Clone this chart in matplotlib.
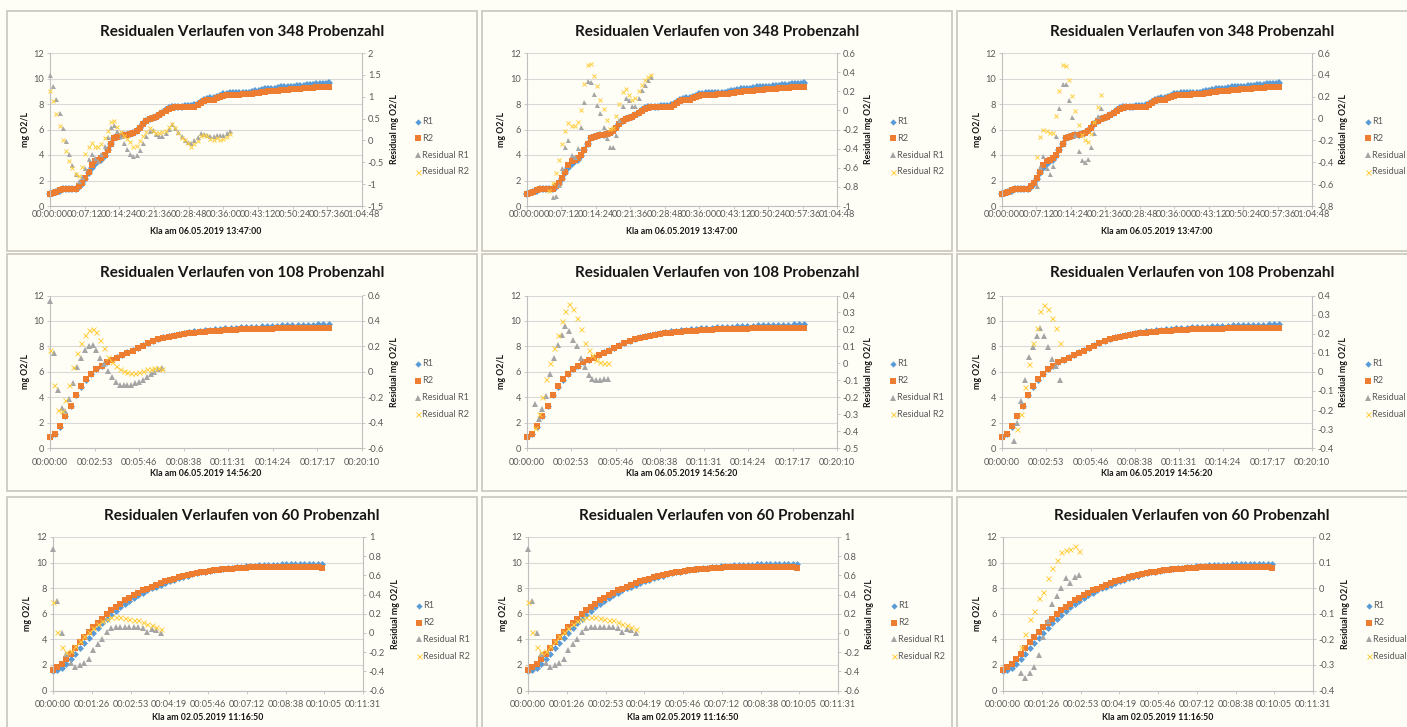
import numpy as np
import matplotlib.pyplot as plt
from matplotlib.lines import Line2D
from matplotlib.patches import Rectangle
from matplotlib.ticker import FixedLocator, FuncFormatter

plt.rcParams['font.family'] = ['Lato', 'DejaVu Sans']

# ---- measurement data (mg O2/L), sample clock in seconds ----
# run of 06.05.2019 13:47:00 (348 samples)
t_348 = np.arange(0, 3481, 40)
r1_348 = [0.95, 1.0, 1.1, 1.2, 1.3, 1.3, 1.3, 1.3, 1.35, 1.5,
          1.7, 2.1, 2.6, 3.0, 3.3, 3.5, 3.6, 3.9, 4.4, 4.9,
          5.3, 5.4, 5.5, 5.55, 5.6, 5.65, 5.7, 5.9, 6.1, 6.4,
          6.7, 6.85, 6.9, 7.0, 7.15, 7.3, 7.5, 7.65, 7.75, 7.8,
          7.8, 7.8, 7.85, 7.85, 7.85, 7.9, 8.0, 8.15, 8.3, 8.4,
          8.45, 8.45, 8.55, 8.65, 8.75, 8.8, 8.85, 8.85, 8.85, 8.85,
          8.88, 8.9, 8.9, 8.95, 9.0, 9.05, 9.1, 9.15, 9.15, 9.2,
          9.2, 9.25, 9.3, 9.3, 9.32, 9.35, 9.35, 9.4, 9.42, 9.45,
          9.48, 9.5, 9.52, 9.55, 9.55, 9.58, 9.6, 9.62]
r2_348 = [0.95, 1.0, 1.1, 1.25, 1.3, 1.35, 1.3, 1.3, 1.35, 1.55,
          1.8, 2.2, 2.7, 3.2, 3.5, 3.6, 3.75, 4.0, 4.4, 4.9,
          5.3, 5.45, 5.5, 5.55, 5.6, 5.65, 5.7, 5.9, 6.1, 6.4,
          6.7, 6.85, 6.9, 7.0, 7.15, 7.3, 7.45, 7.6, 7.7, 7.75,
          7.75, 7.75, 7.75, 7.75, 7.75, 7.8, 7.95, 8.1, 8.25, 8.3,
          8.35, 8.35, 8.45, 8.55, 8.65, 8.7, 8.7, 8.72, 8.72, 8.72,
          8.75, 8.75, 8.78, 8.8, 8.85, 8.9, 8.95, 8.98, 9.0, 9.0,
          9.02, 9.05, 9.1, 9.1, 9.12, 9.15, 9.15, 9.18, 9.2, 9.22,
          9.25, 9.25, 9.28, 9.3, 9.3, 9.32, 9.33, 9.35]

# run of 06.05.2019 14:56:20 (108 samples)
t_108 = np.arange(0, 1081, 20)
r1_108 = [0.9, 1.15, 1.7, 2.5, 3.3, 4.15, 4.85, 5.4, 5.85, 6.2,
          6.5, 6.75, 6.95, 7.15, 7.35, 7.55, 7.7, 7.9, 8.1, 8.3,
          8.45, 8.6, 8.72, 8.82, 8.92, 9.0, 9.07, 9.13, 9.18, 9.23,
          9.27, 9.31, 9.35, 9.38, 9.41, 9.44, 9.47, 9.49, 9.52, 9.54,
          9.56, 9.58, 9.6, 9.62, 9.63, 9.65, 9.66, 9.67, 9.69, 9.7,
          9.71, 9.72, 9.73, 9.74, 9.75]
r2_108 = [0.9, 1.15, 1.75, 2.55, 3.35, 4.2, 4.9, 5.45, 5.85, 6.2,
          6.5, 6.75, 6.95, 7.1, 7.3, 7.5, 7.68, 7.85, 8.05, 8.25,
          8.4, 8.55, 8.65, 8.75, 8.85, 8.92, 8.98, 9.03, 9.08, 9.12,
          9.16, 9.19, 9.22, 9.25, 9.27, 9.29, 9.31, 9.33, 9.34, 9.36,
          9.37, 9.38, 9.39, 9.4, 9.41, 9.42, 9.43, 9.43, 9.44, 9.44,
          9.45, 9.45, 9.46, 9.46, 9.47]

# run of 02.05.2019 11:16:50 (60 samples)
t_60 = np.arange(0, 601, 10)
r1_60 = [1.55, 1.6, 1.77, 2.09, 2.48, 2.87, 3.3, 3.72, 4.12, 4.52,
         4.9, 5.25, 5.6, 5.92, 6.22, 6.5, 6.78, 7.02, 7.24, 7.45,
         7.65, 7.82, 7.98, 8.13, 8.28, 8.42, 8.55, 8.67, 8.78, 8.89,
         8.98, 9.07, 9.15, 9.23, 9.3, 9.37, 9.43, 9.48, 9.53, 9.57,
         9.61, 9.65, 9.68, 9.71, 9.74, 9.76, 9.78, 9.8, 9.82, 9.83,
         9.85, 9.86, 9.87, 9.88, 9.88, 9.89, 9.89, 9.9, 9.9, 9.9, 9.9]
r2_60 = [1.57, 1.83, 2.09, 2.48, 2.87, 3.34, 3.78, 4.17, 4.57, 4.96,
         5.3, 5.61, 5.95, 6.26, 6.52, 6.78, 7.04, 7.25, 7.44, 7.64,
         7.83, 7.96, 8.09, 8.27, 8.4, 8.53, 8.63, 8.75, 8.85, 8.95,
         9.03, 9.1, 9.17, 9.23, 9.29, 9.34, 9.39, 9.43, 9.47, 9.5,
         9.53, 9.56, 9.58, 9.6, 9.62, 9.63, 9.64, 9.65, 9.66, 9.67,
         9.67, 9.68, 9.68, 9.68, 9.68, 9.68, 9.67, 9.67, 9.66, 9.65, 9.6]

# ---- residuals (mg O2/L): first sample time, sampling step, values ----
res_348a_r1 = (0, 40, [1.50, 1.24, 0.95, 0.62, 0.29, -0.01, -0.31, -0.57, -0.77, -0.92,
                       -0.84, -0.62, -0.42, -0.30, -0.41, -0.47, -0.32, -0.13, 0.07, 0.30,
                       0.36, 0.22, 0.10, -0.06, -0.19, -0.30, -0.36, -0.33, -0.22, -0.05,
                       0.10, 0.22, 0.25, 0.15, 0.10, 0.09, 0.17, 0.27, 0.38, 0.28,
                       0.19, 0.09, 0.01, -0.04, -0.05, 0.00, 0.07, 0.16, 0.15, 0.12,
                       0.09, 0.10, 0.12, 0.12, 0.13, 0.17, 0.21])
res_348a_r2 = (0, 40, [1.13, 0.90, 0.60, 0.32, 0.02, -0.25, -0.48, -0.64, -0.76, -0.82,
                       -0.60, -0.31, -0.16, -0.06, -0.15, -0.15, -0.08, 0.05, 0.21, 0.42,
                       0.44, 0.31, 0.19, 0.11, 0.04, -0.04, -0.15, -0.13, -0.01, 0.11,
                       0.19, 0.28, 0.22, 0.16, 0.16, 0.19, 0.22, 0.30, 0.38, 0.29,
                       0.18, 0.06, 0.00, -0.06, -0.14, -0.09, -0.01, 0.09, 0.12, 0.11,
                       0.04, 0.02, 0.05, 0.02, 0.03, 0.08, 0.15])
res_348b_r1 = (320, 40, [-0.91, -0.90, -0.78, -0.60, -0.38, -0.31, -0.47, -0.49, -0.39, -0.17,
                         0.09, 0.31, 0.30, 0.17, 0.06, -0.03, -0.17, -0.29, -0.38, -0.38,
                         -0.26, -0.10, 0.05, 0.13, 0.11, 0.05, 0.05, 0.13, 0.21, 0.27,
                         0.32, 0.35])
res_348b_r2 = (280, 40, [-0.84, -0.76, -0.66, -0.52, -0.35, -0.22, -0.13, -0.16, -0.16, -0.12,
                         0.00, 0.28, 0.47, 0.49, 0.36, 0.25, 0.11, 0.01, -0.10, -0.19,
                         -0.18, -0.06, 0.07, 0.19, 0.22, 0.16, 0.11, 0.13, 0.20, 0.27,
                         0.32, 0.35, 0.37])
res_348c_r1 = (440, 40, [-0.62, -0.44, -0.34, -0.45, -0.51, -0.43, -0.16, 0.10, 0.32, 0.32,
                         0.17, 0.01, -0.15, -0.30, -0.38, -0.40, -0.37, -0.26, -0.13, 0.02,
                         0.10])
res_348c_r2 = (440, 40, [-0.35, -0.17, -0.10, -0.11, -0.13, -0.13, 0.02, 0.25, 0.49, 0.48,
                         0.35, 0.21, 0.07, -0.06, -0.15, -0.20, -0.21, -0.14, -0.03, 0.11,
                         0.22])

res_108a_r1 = (0, 15, [0.56, 0.15, -0.14, -0.28, -0.31, -0.21, -0.09, 0.04, 0.11, 0.17,
                       0.20, 0.21, 0.17, 0.11, 0.06, 0.01, -0.04, -0.08, -0.10, -0.10,
                       -0.10, -0.10, -0.09, -0.08, -0.06, -0.04, -0.02, 0.00, 0.02, 0.03])
res_108a_r2 = (0, 15, [0.17, -0.10, -0.30, -0.31, -0.22, -0.10, 0.04, 0.15, 0.23, 0.29,
                       0.33, 0.34, 0.31, 0.25, 0.19, 0.12, 0.08, 0.05, 0.02, 0.01,
                       0.00, -0.01, -0.01, 0.00, 0.01, 0.02, 0.02, 0.03, 0.03, 0.02])
res_108b_r1 = (30, 15, [-0.24, -0.33, -0.27, -0.19, -0.06, 0.03, 0.11, 0.17, 0.22, 0.19,
                        0.14, 0.10, 0.03, -0.02, -0.07, -0.09, -0.10, -0.10, -0.09, -0.09])
res_108b_r2 = (30, 15, [-0.38, -0.30, -0.20, -0.09, 0.00, 0.09, 0.17, 0.25, 0.31, 0.35,
                        0.32, 0.27, 0.20, 0.12, 0.08, 0.05, 0.02, 0.01, 0.00, 0.00])
res_108c_r1 = (45, 15, [-0.36, -0.27, -0.15, -0.04, 0.08, 0.13, 0.19, 0.23, 0.19, 0.13,
                        0.07, 0.03, -0.04])
res_108c_r2 = (60, 15, [-0.30, -0.22, -0.08, 0.04, 0.15, 0.23, 0.32, 0.35, 0.33, 0.28,
                        0.23, 0.15])

res_60a_r1 = (0, 10, [0.87, 0.33, 0.00, -0.22, -0.31, -0.36, -0.33, -0.31, -0.27, -0.18,
                      -0.12, -0.06, 0.01, 0.05, 0.06, 0.06, 0.06, 0.06, 0.06, 0.06,
                      0.05, 0.01, 0.04, 0.03, 0.00])
res_60a_r2 = (0, 10, [0.32, 0.01, -0.15, -0.20, -0.19, -0.14, -0.08, -0.03, 0.01, 0.05,
                      0.09, 0.12, 0.15, 0.17, 0.17, 0.17, 0.16, 0.15, 0.14, 0.13,
                      0.11, 0.09, 0.08, 0.06, 0.04])
res_60c_r1 = (40, 10, [-0.33, -0.35, -0.33, -0.31, -0.26, -0.19, -0.13, -0.06, -0.03, 0.00,
                       0.04, 0.02, 0.045, 0.05])
res_60c_r2 = (40, 10, [-0.23, -0.18, -0.12, -0.09, -0.04, -0.015, 0.04, 0.08, 0.11, 0.14,
                       0.15, 0.155, 0.165, 0.145])

runs = {
    348: dict(t=t_348, r1=r1_348, r2=r2_348, label='Kla am 06.05.2019 13:47:00',
              xstep=432.0, nx=9),
    108: dict(t=t_108, r1=r1_108, r2=r2_108, label='Kla am 06.05.2019 14:56:20',
              xstep=172.8, nx=7),
    60: dict(t=t_60, r1=r1_60, r2=r2_60, label='Kla am 02.05.2019 11:16:50',
             xstep=86.4, nx=8),
}

# (run, residual R1, residual R2, right axis min, max, step)
panels = [
    [(348, res_348a_r1, res_348a_r2, -1.5, 2.0, 0.5),
     (348, res_348b_r1, res_348b_r2, -1.0, 0.6, 0.2),
     (348, res_348c_r1, res_348c_r2, -0.8, 0.6, 0.2)],
    [(108, res_108a_r1, res_108a_r2, -0.6, 0.6, 0.2),
     (108, res_108b_r1, res_108b_r2, -0.5, 0.4, 0.1),
     (108, res_108c_r1, res_108c_r2, -0.4, 0.4, 0.1)],
    [(60, res_60a_r1, res_60a_r2, -0.6, 1.0, 0.2),
     (60, res_60a_r1, res_60a_r2, -0.6, 1.0, 0.2),
     (60, res_60c_r1, res_60c_r2, -0.4, 0.2, 0.1)],
]

# ---- layout in pixels ----
W, H = 1407, 727
box_x = [(7, 477), (482, 952), (957, 1440)]
box_y = [(11.5, 250.5), (254, 491), (497, 740)]
plot_x = [[(50, 362), (527, 837), (1002, 1312)],
          [(50, 362), (527, 837), (1002, 1312)],
          [(53, 363), (528, 838), (1003, 1313)]]
plot_y = [(53, 206), (295.5, 448.3), (537, 690.5)]
title_y = [32, 273, 516]
xlabel_y = [232, 474, 718]
xtick_pad = [1.0, 4.6, 4.6]
xtick_size = [6.55, 6.6, 6.6]
# marker sizes per run: diamond, square, triangle, cross
msizes = {348: (4.6, 4.2, 3.6, 3.4), 108: (4.4, 4.0, 3.8, 3.6), 60: (4.4, 4.0, 3.8, 3.6)}

BLUE, ORANGE, GRAY, GOLD = '#5B9BD5', '#ED7D31', '#A5A5A5', '#FFCF40'
CREAM, FRAME, GRID, AXIS, TXT = '#FFFEF6', '#CDC9C1', '#D9D9D9', '#BFBFBF', '#595959'
DARK = '#161616'


def hms(v, pos=None):
    s = int(round(v))
    return '%02d:%02d:%02d' % (s // 3600, s % 3600 // 60, s % 60)


def num(v, pos=None):
    v = round(v, 3)
    return '0' if v == 0 else '%g' % v


def fx(x):
    return x / W


def fy(y):
    return 1 - y / H


fig = plt.figure(figsize=(W / 100, H / 100), dpi=100, facecolor=CREAM)

for i, row in enumerate(panels):
    for j, (key, res1, res2, rlo, rhi, rstep) in enumerate(row):
        run = runs[key]
        msd, mss, mst, msx = msizes[key]
        bx0, bx1 = box_x[j]
        by0, by1 = box_y[i]
        fig.add_artist(Rectangle((fx(bx0), fy(by1)), (bx1 - bx0) / W, (by1 - by0) / H,
                                 transform=fig.transFigure, facecolor=CREAM,
                                 edgecolor=FRAME, lw=1.3, zorder=-5))
        px0, px1 = plot_x[i][j]
        py0, py1 = plot_y[i]
        ax = fig.add_axes([fx(px0), fy(py1), (px1 - px0) / W, (py1 - py0) / H])
        ax.set_facecolor('none')

        ax.plot(run['t'], run['r1'], ls='none', marker='D', ms=msd * 0.8, mew=0,
                color=BLUE, clip_on=False)
        ax.plot(run['t'], run['r2'], ls='none', marker='s', ms=mss, mew=0,
                color=ORANGE, clip_on=False)

        xmax = run['xstep'] * run['nx']
        ax.set_xlim(0, xmax)
        ax.xaxis.set_major_locator(FixedLocator(run['xstep'] * np.arange(run['nx'] + 1)))
        ax.xaxis.set_major_formatter(FuncFormatter(hms))
        ax.set_ylim(0, 12)
        ax.yaxis.set_major_locator(FixedLocator(np.arange(0, 13, 2)))
        ax.yaxis.grid(True, color=GRID, lw=0.8)
        ax.set_axisbelow(True)
        for s in ('top', 'right'):
            ax.spines[s].set_visible(False)
        for s in ('left', 'bottom'):
            ax.spines[s].set_color(AXIS)
            ax.spines[s].set_linewidth(0.8)
        ax.tick_params(axis='x', length=2.2, width=0.6, color=AXIS, labelsize=xtick_size[i],
                       labelcolor=TXT, pad=xtick_pad[i])
        ax.tick_params(axis='y', length=2.2, width=0.6, color=AXIS, labelsize=6.7,
                       labelcolor=TXT, pad=2)

        ax2 = ax.twinx()
        t0, dt, v = res1
        ax2.plot(t0 + dt * np.arange(len(v)), v, ls='none', marker='^', ms=mst, mew=0,
                 color=GRAY, clip_on=False)
        t0, dt, v = res2
        ax2.plot(t0 + dt * np.arange(len(v)), v, ls='none', marker='x', ms=msx, mew=0.7,
                 color=GOLD, clip_on=False)
        ax2.set_ylim(rlo, rhi)
        ax2.yaxis.set_major_locator(FixedLocator(np.arange(rlo, rhi + rstep / 2, rstep)))
        ax2.yaxis.set_major_formatter(FuncFormatter(num))
        for s in ('top', 'left', 'bottom'):
            ax2.spines[s].set_visible(False)
        ax2.spines['right'].set_color(AXIS)
        ax2.spines['right'].set_linewidth(0.8)
        ax2.tick_params(axis='y', length=2.2, width=0.6, color=AXIS, labelsize=6.7,
                        labelcolor=TXT, pad=2)

        # titles and axis captions
        fig.text(fx((bx0 + min(bx1, bx0 + 470)) / 2), fy(title_y[i]),
                 'Residualen Verlaufen von %d Probenzahl' % key,
                 ha='center', va='center', fontsize=11, fontweight='bold', color=DARK)
        fig.text(fx((px0 + px1) / 2), fy(xlabel_y[i]), run['label'], ha='center',
                 va='center', fontsize=6.3, fontweight='bold', color=DARK)
        pyc = (py0 + py1) / 2
        fig.text(fx(px0 - 25), fy(pyc), 'mg O2/L', rotation=90, ha='center',
                 va='center', fontsize=6.3, fontweight='bold', color=DARK)
        fig.text(fx(px1 + 32), fy(pyc), 'Residual mg O2/L', rotation=90, ha='center',
                 va='center', fontsize=6.3, fontweight='bold', color=DARK)

        # legend
        entries = [('R1', 'D', BLUE, 3.2, 0), ('R2', 's', ORANGE, 3.8, 0),
                   ('Residual R1', '^', GRAY, 3.8, 0), ('Residual R2', 'x', GOLD, 3.6, 0.7)]
        for k, (lab, mk, col, size, mew) in enumerate(entries):
            ly = pyc - 8 + 16.8 * k
            fig.add_artist(Line2D([fx(px1 + 55.5)], [fy(ly)], ls='none', marker=mk,
                                  ms=size, mew=mew, color=col,
                                  transform=fig.transFigure))
            fig.text(fx(px1 + 60), fy(ly), lab, ha='left', va='center',
                     fontsize=6.6, color=TXT)

fig.savefig('out.png', dpi=100, facecolor=CREAM)
